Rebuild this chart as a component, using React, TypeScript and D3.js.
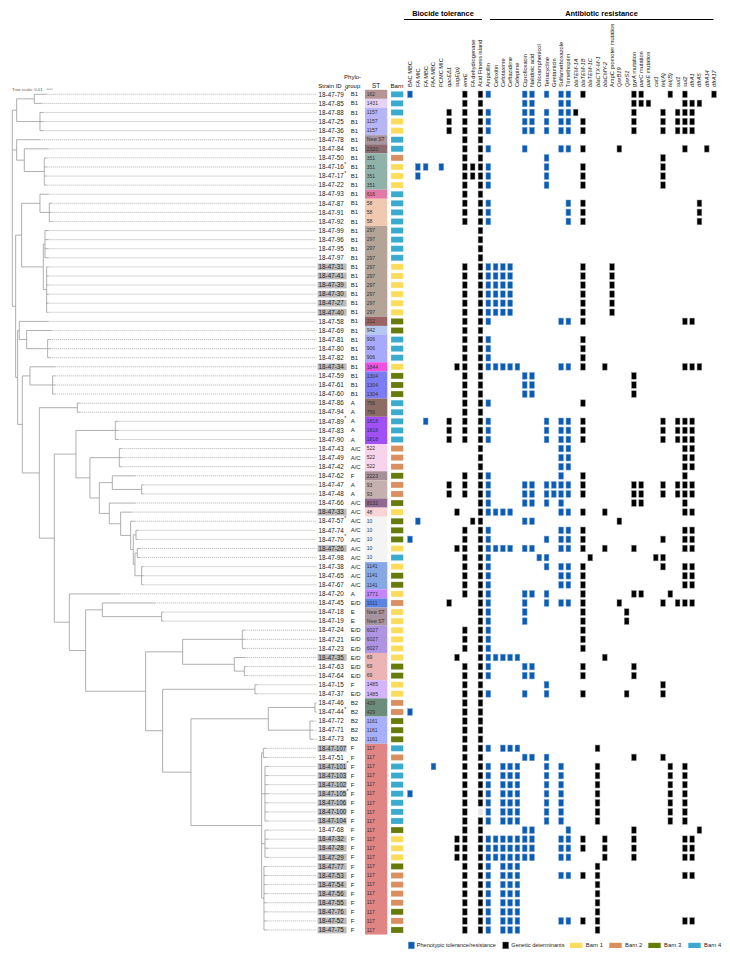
import React from "react";
import * as d3 from "d3";

// ---------------- DATA ----------------
const STRAINS = [
  "79","85","88","25","36","78","84","50","16","17","22","93","87","91","92","99","96","95","97",
  "31","41","39","30","27","40","58","69","81","80","82","34","59","61","60","86","94","89","83","90",
  "43","49","42","62","47","48","66","33","57","74","70","26","98","38","65","67","20","45","18","19",
  "24","21","23","35","63","64","15","37","46","44","72","71","73","107","51","101","103","102","105",
  "106","100","104","68","32","28","29","77","53","54","56","55","76","52","75",
];
const ASTERISK = ["79","16","17","89","57","70","44","101","105"];
const HIGHLIGHT = ["31","41","39","30","27","40","34","33","26","35","107","101","103","102","105","106","100","104","32","28","29","77","53","54","56","55","76","52","75"];

const PHYLO = [
  "B1","B1","B1","B1","B1","B1","B1","B1","B1","B1","B1","B1","B1","B1","B1","B1","B1","B1","B1",
  "B1","B1","B1","B1","B1","B1","B1","B1","B1","B1","B1","B1","B1","B1","B1","A","A","A","A","A",
  "A/C","A/C","A/C","F","A","A","A/C","A/C","A/C","A/C","A/C","A/C","A/C","A/C","A/C","A/C","A","E/D","E","E",
  "E/D","E/D","E/D","E/D","E/D","E/D","F","E/D","B2","B2","B2","B2","B2","F","F","F","F","F","F",
  "F","F","F","F","F","F","F","F","F","F","F","F","F","F","F",
];
const ST = [
  "162","1431","1157","1157","1157","New ST","2320","351","351","351","351","616","58","58","58","297","297","297","297",
  "297","297","297","297","297","297","212","942","906","906","906","1844","1304","1304","1304","756","756","1818","1818","1818",
  "522","522","522","2223","93","93","8132","48","10","10","10","10","10","1141","1141","1141","1771","1011","New ST","New ST",
  "6027","6027","6027","69","69","69","1485","1485","429","429","1161","1161","1161","117","117","117","117","117","117",
  "117","117","117","117","117","117","117","117","117","117","117","117","117","117","117",
];
const BARN = [
  4,4,4,1,1,4,4,2,1,1,1,4,4,4,4,4,4,4,4,
  1,1,1,1,1,1,3,3,4,4,4,1,3,3,3,4,4,4,4,4,
  2,2,2,3,2,2,3,1,3,3,3,1,4,1,3,3,1,2,1,1,
  1,1,1,1,3,3,1,1,2,2,3,3,3,4,2,4,4,4,4,
  4,4,4,3,1,1,1,3,2,2,2,2,3,2,3,
];

const COLUMNS = [
  "BAC MBC","FA MIC","FA MBC","PAA MBC","PCMC MIC","qacEΔ1","sugE(p)","emrE","FA dehydrogenase","Acid Fitness island",
  "Ampicillin","Cefoxitin","Cefotaxime","Ceftazidime","Cefepime","Ciprofloxacin","Nalidixic acid","Chloramphenicol",
  "Tetracycline","Gentamicin","Sulfamethoxazole","Trimethoprim","blaTEM-1A","blaTEM-1B","blaTEM-1C","blaCTX-M-1","blaCMY-2",
  "AmpC promoter mutation","QnrB19","QnrS1","gyrA mutation","parC mutation","parE mutation","cat1","tet(A)","tet(B)",
  "sul1","sul2","dfrA1","dfrA5","dfrA14","dfrA17",
];
const ITALIC_COLS = [5,6,7,22,23,24,25,26,28,29,33,34,35,36,37,38,39,40,41];
const ITALIC_FIRST_WORD_COLS = [30,31,32];

// phenotypic tolerance / resistance (blue) per strain, column indices
const PHENO = [
  [0,10,15,16,18,20,21],[15,16,20,21],[10,15,16,18,20,21],[10,15,16,18,20,21],[10,15,16,18,20,21],[],[10,15,20,21],[18],
  [1,2,4,10,18],[1,10,18],[10,18],[],[10,21],[10,21],[10,21],[],[],[],[],
  [10,11,12,13],[10,11,12,13],[10,11,12,13],[10,11,12,13],[10,11,12,13],[10,11,12,13],[10,20,21],[],[10],[10],[10],
  [10,11,12,13,14,20,21],[15,16],[15,16],[15,16],[10],[],[2,10,18,20,21],[10,18,20,21],[10,18,20,21],
  [20,21],[20,21],[20,21],[10,20],[10,15,16,18,19,20,21],[10,15,16,18,19,20,21],[10,15,16,18,20],[10,11,12,13,20,21],
  [1,15,16],[10,20,21],[0,10,18,20,21],[10,11,12,13,15,16,20,21],[10,17,18],[10,18,20,21],[10,20,21],[10,20,21],
  [10,15,16,18],[10,15,18,20,21],[10,15],[10,15],[10],[10],[10],[10,11,12,13,14],[10,15,16],[10,15,16],[18],[10,15,18],
  [],[0],[],[],[],[10,12,13,14],[15,16,18],[3,10,12,13,14,18,20],[10,12,13,14,18,20],[10,12,13,14,18,20],
  [0,10,12,13,14,18,20],[10,12,13,14,18,20],[10,12,13,14,18,20],[10,12,13,14,18,20],[15,16,21],
  [10,11,12,13,14,15,16,20,21],[10,11,12,13,14,15,16,20,21],[10,11,12,13,14,15,16,20,21],[10,12,13,14],
  [10,12,13,14,20,21],[10,12,13,14],[10,12,13,14],[10,12,13,14],[10,12,13,14],[10,12,13,14,20,21],[10,12,13,14],
];
// genetic determinants (black) per strain, column indices
const GENE = [
  [7,9,23,30,31,35,37,41],[7,9,30,31,32,37,38,39],[5,7,9,22,30,34,36,37,38],[5,7,9,23,30,34,36,37,38],[5,7,9,23,30,34,36,37,38],
  [7,9],[7,9,23,28,37,40],[7,9,34],[7,8,9,23,34],[7,8,9,23,34],[7,9,23,34],[7,9],[7,9,23,39],[7,9,23,39],[7,9,23,39],
  [9],[9],[9],[9],
  [7,9,23,27],[7,9,23,27],[7,9,23,27],[7,9,23,27],[7,9,23,27],[7,9,23,27],[7,9,23,37,38],[7,9],[7,9,23],[7,9,23],[7,9,23],
  [6,7,9,23,26,37,38,39],[7,9,30],[7,9,30],[7,9,30],[7,9,23],[7,9],[5,7,9,23,34,36,37,38],[5,7,9,23,34,36,37,38],[5,7,9,23,34,36,37,38],
  [9,37,38],[9,37,38],[9,37,38],[7,9,23,37],[5,7,9,23,30,31,34,36,37,38],[5,7,9,23,30,31,34,36,37,38],[9,30,31,37],
  [6,9,23,26,37,38],[8,9,28],[7,9,23,37,38],[7,9,23,34,37,38],[6,7,9,23,26,30,37,38],[7,9,24,33,34],[7,9,23,34,37,38],
  [7,9,23,37,38],[7,9,23,37,38],[7,9,23,30,31,35],[5,9,23,28,34,36,37,38],[9,23,29],[9,23,29],[7,9,23],[7,9,23],[7,9,23],
  [6,9,26],[7,9,23,30],[7,9,23,30],[7,9,34],[7,9,23,29,34],[7,9],[7,9],[7,9],[7,9],[7,9],[7,9,25],[7,9,30,34],
  [7,9,25,35,37],[7,9,25,35,37],[7,9,25,35,37],[7,9,25,35,37],[7,9,25,35,37],[7,25,35,37],[7,9,25,35,37],[7,9,30,39],
  [6,7,9,23,26,30,37,38],[6,7,9,23,26,30,37,38],[6,7,9,26,30,37,38],[7,9,25],[7,9,23,25,37,38],[7,9,25],[7,9,25],[7,9,25],
  [7,9,25],[7,9,23,25,37,38],[7,9,25],
];
// faint (pale grey) cells: [row strain, column]
const FAINT = [["100", 9]];

// Phylogeny (Newick; branch lengths in units where 18 units = 0.01 substitutions/site)
const NEWICK =
  "(((79:37,85:22):53,(88:10,25:10,36:10):70):13," +
  "(78:70,(84:72,(50:7,16:7,17:7,22:7):60):23):13," +
  "(((93:25,(87:7,91:7,92:7):28):55,((99:10,96:10,95:10,97:10):5,(31:5,41:5,39:5,30:5,27:5,40:5):10):65):18," +
  "((58:87,(69:75,(81:7,80:7,82:7):63):22):5," +
  "((34:75,(59:7,61:7,60:7):68):23," +
  "((86:8,94:8):114," +
  "(((89:9,83:9,90:9):118,((43:7,49:7,42:7):88,((62:68,(47:5,48:5):88):39," +
  "(66:77,(33:33,(57:13,((74:7,70:7):8,((26:8,98:8):7,(38:5,65:5,67:5):20):5):8):30):34):30):28):42):65," +
  "(20:152,((45:158,(18:5,19:5):178):50," +
  "(((24:8,21:8,23:8):179,(35:32,(63:7,64:7):30):155):111," +
  "((15:7,37:7):277,(((46:3,44:3):140,(72:10,71:10,73:10):125):232," +
  "((107:10,51:10):5,(101:10,103:10,102:10,105:10,106:10,100:10,104:10):10,(68:10,32:10,28:10,29:10):10," +
  "(77:8,53:8,54:8,56:8,55:8,76:8,52:8,75:8):7):212):85):51):180):49):45):45):51):14):6):10);";
const TREE_SCALE_LABEL = "Tree scale: 0.01";
const TREE_SCALE_UNITS = 18;

const LEGEND_MARKS = ["Phenotypic tolerance/resistance", "Genetic determinants"];
const BARN_LABELS = ["Barn 1", "Barn 2", "Barn 3", "Barn 4"];

// ---------------- STYLES ----------------
const ST_COLORS: Record<string, string> = {
  "162": "#b49494", "1431": "#e6d2f4", "1157": "#b6b6f4", "New ST": "#a8949f", "2320": "#8c6a72",
  "351": "#90b2a8", "616": "#e27aa8", "58": "#f0c9b1", "297": "#b4a498", "212": "#9a6464", "942": "#b4c8f0",
  "906": "#a8a8fc", "1844": "#f050e0", "1304": "#7c7cf4", "756": "#8c6c64", "1818": "#a050f4", "522": "#f8d4ec",
  "2223": "#a89098", "93": "#c4b0ac", "8132": "#906890", "48": "#f8d4d6", "10": "#f4f4f4", "1141": "#88a8e4",
  "1771": "#c484fc", "1011": "#5c84e4", "6027": "#b094e4", "69": "#ecb4b4", "1485": "#d4b4fc", "429": "#6c8c7c",
  "1161": "#a8b0fc", "117": "#e08484",
};
const BARN_COLORS = ["#fddc5c", "#d98f5f", "#667c0a", "#3aabcf"];
const BLUE = "#0c5cb4";
const FONT = "'Liberation Sans', Arial, Helvetica, sans-serif";

type TNode = { name: string; length: number; children: TNode[] };

function parseNewick(src: string): TNode {
  const s = src.replace(/\s+/g, "");
  let i = 0;
  function node(): TNode {
    const n: TNode = { name: "", length: 0, children: [] };
    if (s[i] === "(") {
      i++;
      n.children.push(node());
      while (s[i] === ",") {
        i++;
        n.children.push(node());
      }
      i++; // ')'
    }
    let name = "";
    while (i < s.length && !",():;".includes(s[i])) name += s[i++];
    n.name = name;
    if (s[i] === ":") {
      i++;
      let num = "";
      while (i < s.length && !",();".includes(s[i])) num += s[i++];
      n.length = parseFloat(num);
    }
    return n;
  }
  return node();
}

export default function App() {
  const W = 730, H = 959;
  const y = d3.scalePoint<string>().domain(STRAINS).range([94.3, 930]);
  const step = y.step();
  const xc = d3.scaleLinear().domain([0, 10, 41]).range([410, 488.3, 714]);
  const xt = d3.scaleLinear().domain([0, TREE_SCALE_UNITS]).range([12.3, 18.3]);
  const labelX = 316.5;

  const root = d3.hierarchy<TNode>(parseNewick(NEWICK), (d) => (d.children.length ? d.children : null));
  const cum = new Map<any, number>();
  const ny = new Map<any, number>();
  root.eachBefore((n) => cum.set(n, n.parent ? (cum.get(n.parent) as number) + n.data.length : 0));
  root.eachAfter((n) => {
    if (n.children) {
      ny.set(n, ((ny.get(n.children[0]) as number) + (ny.get(n.children[n.children.length - 1]) as number)) / 2);
    } else ny.set(n, y(n.data.name) as number);
  });

  const branchColor = "#9c9c9c";
  const treeEls: React.ReactNode[] = [];
  root.each((n) => {
    const x = xt(cum.get(n) as number);
    const yy = ny.get(n) as number;
    if (n.parent) {
      treeEls.push(
        <line key={"h" + treeEls.length} x1={xt(cum.get(n.parent) as number)} x2={x} y1={yy} y2={yy}
          stroke={branchColor} strokeWidth={0.8} />
      );
    }
    if (n.children) {
      treeEls.push(
        <line key={"v" + treeEls.length} x1={x} x2={x}
          y1={ny.get(n.children[0]) as number} y2={ny.get(n.children[n.children.length - 1]) as number}
          stroke={branchColor} strokeWidth={0.8} />
      );
    } else {
      treeEls.push(
        <line key={"d" + treeEls.length} x1={x} x2={labelX} y1={yy} y2={yy}
          stroke="#8a8a8a" strokeWidth={0.55} strokeDasharray="1.2,0.8" />
      );
    }
  });

  // ST blocks (consecutive runs)
  const stBlocks: { st: string; start: number; end: number }[] = [];
  ST.forEach((s, i) => {
    const last = stBlocks[stBlocks.length - 1];
    if (last && last.st === s) last.end = i;
    else stBlocks.push({ st: s, start: i, end: i });
  });

  const cw = 4.7, ch = 6.6;

  return (
    <svg width={W} height={H} style={{ position: "absolute", left: 0, top: 0, background: "#fff" }}
      fontFamily={FONT}>
      <rect width={W} height={H} fill="#fff" />
      {/* Section headers */}
      <text x={443} y={16} fontSize={7.4} fontWeight="bold" textAnchor="middle">Biocide tolerance</text>
      <line x1={404} x2={482} y1={19.5} y2={19.5} stroke="#000" strokeWidth={1.2} />
      <text x={601.5} y={16} fontSize={7.4} fontWeight="bold" textAnchor="middle">Antibiotic resistance</text>
      <line x1={490} x2={713.5} y1={19.5} y2={19.5} stroke="#000" strokeWidth={1.2} />

      {/* Column labels */}
      {COLUMNS.map((c, i) => {
        const cx = xc(i) + 2;
        const it = ITALIC_COLS.includes(i);
        const first = ITALIC_FIRST_WORD_COLS.includes(i);
        const sp = c.indexOf(" ");
        return (
          <text key={"c" + i} transform={`translate(${cx},87) rotate(-90)`} fontSize={5.7} fill="#111"
            fontStyle={it ? "italic" : "normal"}>
            {first ? (
              <>
                <tspan fontStyle="italic">{c.slice(0, sp)}</tspan>
                <tspan>{c.slice(sp)}</tspan>
              </>
            ) : c}
          </text>
        );
      })}

      {/* Other headers */}
      <text x={318.3} y={87.5} fontSize={6} fill="#111">Strain ID</text>
      <text x={352.6} y={78.5} fontSize={6} fill="#111" textAnchor="middle">Phylo-</text>
      <text x={352.6} y={87.5} fontSize={6} fill="#111" textAnchor="middle">group</text>
      <text x={376} y={87.5} fontSize={6.4} fill="#111" textAnchor="middle">ST</text>
      <text x={397} y={87.5} fontSize={6.2} fill="#111" textAnchor="middle">Barn</text>

      {/* Tree scale */}
      <text x={12} y={90.6} fontSize={4.3} fill="#555">{TREE_SCALE_LABEL}</text>
      <line x1={xt(0) + 34.4} x2={xt(TREE_SCALE_UNITS) + 34.4} y1={89.2} y2={89.2} stroke="#777" strokeWidth={0.6} />

      {/* Tree */}
      <g>{treeEls}</g>

      {/* Strain labels */}
      {STRAINS.map((s, i) => {
        const yy = y(s) as number;
        const hl = HIGHLIGHT.includes(s);
        const label = "18-47-" + s;
        return (
          <g key={"s" + s}>
            {hl && <rect x={317.6} y={yy - 3.4} width={29} height={6.8} fill="#bcbcbc" />}
            <text x={318.6} y={yy} dy="0.35em" fontSize={6.3} fill="#222"
              textLength={label.length > 8 ? 27.5 : undefined} lengthAdjust="spacingAndGlyphs">{label}</text>
            {ASTERISK.includes(s) && (
              <text x={318.6 + (label.length > 8 ? 27.8 : 25.6)} y={yy - 1.2} fontSize={5} fill="#222">*</text>
            )}
            <text x={350.7} y={yy} dy="0.35em" fontSize={6} fill="#222">{PHYLO[i]}</text>
          </g>
        );
      })}

      {/* ST blocks */}
      {stBlocks.map((b, k) => (
        <rect key={"stb" + k} x={365} width={22.3}
          y={(y(STRAINS[b.start]) as number) - step / 2}
          height={(y(STRAINS[b.end]) as number) - (y(STRAINS[b.start]) as number) + step}
          fill={ST_COLORS[b.st]} />
      ))}
      {ST.map((s, i) => (
        <text key={"stt" + i} x={366.8} y={y(STRAINS[i]) as number} dy="0.35em" fontSize={5} fill="#333">{s}</text>
      ))}

      {/* Barn */}
      {BARN.map((b, i) => (
        <rect key={"b" + i} x={391} y={(y(STRAINS[i]) as number) - 3} width={12.3} height={6}
          fill={BARN_COLORS[b - 1]} stroke="#ffffff" strokeOpacity={0.35} strokeWidth={0.5} />
      ))}

      {/* Matrix */}
      {STRAINS.map((s, i) => {
        const yy = y(s) as number;
        return (
          <g key={"m" + s}>
            {PHENO[i].map((c) => (
              <rect key={"p" + c} x={xc(c) - cw / 2} y={yy - ch / 2} width={cw} height={ch}
                fill={BLUE} stroke="#6d9bd6" strokeWidth={0.5} />
            ))}
            {GENE[i].map((c) => (
              <rect key={"g" + c} x={xc(c) - cw / 2} y={yy - ch / 2} width={cw} height={ch}
                fill="#000" stroke="#8c8c8c" strokeWidth={0.5} />
            ))}
          </g>
        );
      })}
      {FAINT.map(([s, c]) => (
        <rect key={"f" + s + c} x={xc(c as number) - cw / 2} y={(y(s as string) as number) - ch / 2}
          width={cw} height={ch} fill="#e6e6e6" />
      ))}

      {/* Legend */}
      <rect x={408.3} y={942} width={6} height={6.8} fill={BLUE} stroke="#6d9bd6" strokeWidth={0.5} />
      <text x={416.7} y={945.4} dy="0.35em" fontSize={5.6} fill="#222">{LEGEND_MARKS[0]}</text>
      <rect x={502.7} y={942} width={6} height={6.8} fill="#000" stroke="#8c8c8c" strokeWidth={0.5} />
      <text x={511.3} y={945.4} dy="0.35em" fontSize={5.6} fill="#222">{LEGEND_MARKS[1]}</text>
      {BARN_LABELS.map((l, i) => {
        const lx = [570, 609.3, 648.3, 688.3][i];
        return (
          <g key={"lg" + i}>
            <rect x={lx} y={942.8} width={12.4} height={5.2} fill={BARN_COLORS[i]} />
            <text x={lx + 15.8} y={945.4} dy="0.35em" fontSize={5.8} fill="#222">{l}</text>
          </g>
        );
      })}
    </svg>
  );
}
